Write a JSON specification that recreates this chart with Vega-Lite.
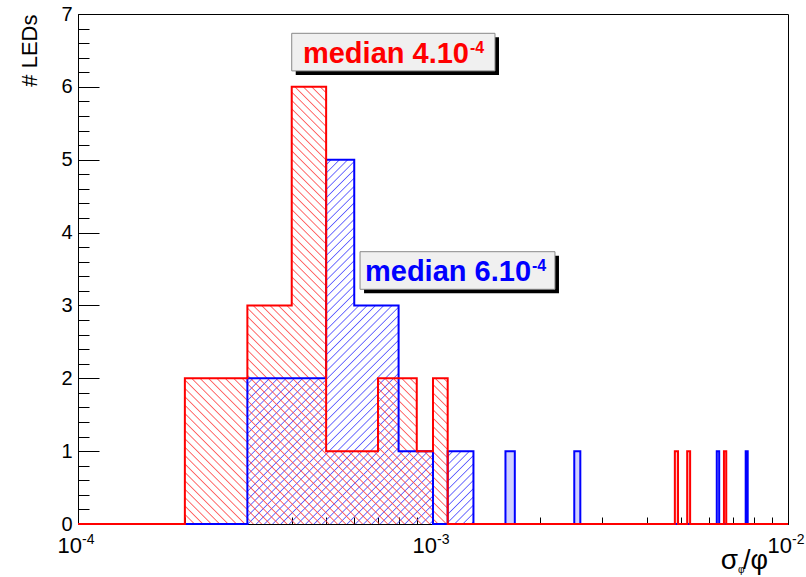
{
"$schema":"https://vega.github.io/schema/vega-lite/v6.json",
"width":710,"height":510,"autosize":"none",
"padding":{"left":78,"top":14,"right":18,"bottom":53},
"background":"white",
"config":{"view":{"stroke":"black","strokeWidth":1},"font":"Liberation Sans","axis":{"grid":false}},
"resolve":{"axis":{"x":"independent","y":"independent"}},
"datasets":{
"hist":[
{"s":"red","x":0.0001,"n":0},{"s":"red","x":0.0002,"n":2},{"s":"red","x":0.0003,"n":3},{"s":"red","x":0.0004,"n":6},{"s":"red","x":0.0005,"n":1},{"s":"red","x":0.0006,"n":1},{"s":"red","x":0.0007,"n":2},{"s":"red","x":0.0008,"n":2},{"s":"red","x":0.0009,"n":1},{"s":"red","x":0.001,"n":2},{"s":"red","x":0.0011,"n":0},{"s":"red","x":0.0048,"n":1},{"s":"red","x":0.0049,"n":0},{"s":"red","x":0.0052,"n":1},{"s":"red","x":0.0053,"n":0},{"s":"red","x":0.0066,"n":1},{"s":"red","x":0.0067,"n":0},{"s":"red","x":0.01,"n":0},
{"s":"blue","x":0.0001,"n":0},{"s":"blue","x":0.0003,"n":2},{"s":"blue","x":0.0004,"n":2},{"s":"blue","x":0.0005,"n":5},{"s":"blue","x":0.0006,"n":3},{"s":"blue","x":0.0007,"n":3},{"s":"blue","x":0.0008,"n":1},{"s":"blue","x":0.0009,"n":1},{"s":"blue","x":0.001,"n":0},{"s":"blue","x":0.0011,"n":1},{"s":"blue","x":0.0012,"n":1},{"s":"blue","x":0.0013,"n":0},{"s":"blue","x":0.0016,"n":1},{"s":"blue","x":0.0017,"n":0},{"s":"blue","x":0.0025,"n":1},{"s":"blue","x":0.0026,"n":0},{"s":"blue","x":0.0063,"n":1},{"s":"blue","x":0.0064,"n":0},{"s":"blue","x":0.0076,"n":1},{"s":"blue","x":0.0077,"n":0},{"s":"blue","x":0.01,"n":0}
],
"boxes":[
{"c":"red","t":"median 4.10","e":"-4","x1":0.0004,"x2":0.001495,"y1":6.735,"y2":6.219,"tx":0.0004302},
{"c":"blue","t":"median 6.10","e":"-4","x1":0.000623,"x2":0.002206,"y1":3.7375,"y2":3.2214,"tx":0.0006433}
],
"ticklabels":[{"v":0.0001,"e":"-4"},{"v":0.001,"e":"-3"},{"v":0.01,"e":"-2"}]
},
"layer":[
{"data":{"name":"hist"},
 "transform":[{"filter":"datum.s=='blue' && datum.x>=0.0003 && datum.x<=0.0013"}],
 "mark":{"type":"area","interpolate":"step-after","color":{"gradient":"linear","x1":0,"y1":0,"x2":0.7261,"y2":1.1699,"stops":[
{"offset":0,"color":"#44f0"},{"offset":0.002,"color":"#44fd"},{"offset":0.004,"color":"#44f0"},
{"offset":0.014,"color":"#44f0"},{"offset":0.016,"color":"#44fd"},{"offset":0.018,"color":"#44f0"},
{"offset":0.028,"color":"#44f0"},{"offset":0.03,"color":"#44fd"},{"offset":0.032,"color":"#44f0"},
{"offset":0.042,"color":"#44f0"},{"offset":0.044,"color":"#44fd"},{"offset":0.046,"color":"#44f0"},
{"offset":0.056,"color":"#44f0"},{"offset":0.058,"color":"#44fd"},{"offset":0.06,"color":"#44f0"},
{"offset":0.07,"color":"#44f0"},{"offset":0.072,"color":"#44fd"},{"offset":0.074,"color":"#44f0"},
{"offset":0.084,"color":"#44f0"},{"offset":0.086,"color":"#44fd"},{"offset":0.088,"color":"#44f0"},
{"offset":0.098,"color":"#44f0"},{"offset":0.1,"color":"#44fd"},{"offset":0.102,"color":"#44f0"},
{"offset":0.112,"color":"#44f0"},{"offset":0.114,"color":"#44fd"},{"offset":0.116,"color":"#44f0"},
{"offset":0.126,"color":"#44f0"},{"offset":0.128,"color":"#44fd"},{"offset":0.13,"color":"#44f0"},
{"offset":0.14,"color":"#44f0"},{"offset":0.142,"color":"#44fd"},{"offset":0.144,"color":"#44f0"},
{"offset":0.154,"color":"#44f0"},{"offset":0.156,"color":"#44fd"},{"offset":0.158,"color":"#44f0"},
{"offset":0.168,"color":"#44f0"},{"offset":0.17,"color":"#44fd"},{"offset":0.172,"color":"#44f0"},
{"offset":0.182,"color":"#44f0"},{"offset":0.184,"color":"#44fd"},{"offset":0.186,"color":"#44f0"},
{"offset":0.196,"color":"#44f0"},{"offset":0.198,"color":"#44fd"},{"offset":0.2,"color":"#44f0"},
{"offset":0.21,"color":"#44f0"},{"offset":0.212,"color":"#44fd"},{"offset":0.214,"color":"#44f0"},
{"offset":0.224,"color":"#44f0"},{"offset":0.226,"color":"#44fd"},{"offset":0.228,"color":"#44f0"},
{"offset":0.238,"color":"#44f0"},{"offset":0.24,"color":"#44fd"},{"offset":0.242,"color":"#44f0"},
{"offset":0.252,"color":"#44f0"},{"offset":0.254,"color":"#44fd"},{"offset":0.256,"color":"#44f0"},
{"offset":0.266,"color":"#44f0"},{"offset":0.268,"color":"#44fd"},{"offset":0.27,"color":"#44f0"},
{"offset":0.28,"color":"#44f0"},{"offset":0.282,"color":"#44fd"},{"offset":0.284,"color":"#44f0"},
{"offset":0.294,"color":"#44f0"},{"offset":0.296,"color":"#44fd"},{"offset":0.298,"color":"#44f0"},
{"offset":0.308,"color":"#44f0"},{"offset":0.31,"color":"#44fd"},{"offset":0.312,"color":"#44f0"},
{"offset":0.322,"color":"#44f0"},{"offset":0.324,"color":"#44fd"},{"offset":0.326,"color":"#44f0"},
{"offset":0.336,"color":"#44f0"},{"offset":0.338,"color":"#44fd"},{"offset":0.34,"color":"#44f0"},
{"offset":0.35,"color":"#44f0"},{"offset":0.352,"color":"#44fd"},{"offset":0.354,"color":"#44f0"},
{"offset":0.364,"color":"#44f0"},{"offset":0.366,"color":"#44fd"},{"offset":0.368,"color":"#44f0"},
{"offset":0.378,"color":"#44f0"},{"offset":0.38,"color":"#44fd"},{"offset":0.382,"color":"#44f0"},
{"offset":0.392,"color":"#44f0"},{"offset":0.394,"color":"#44fd"},{"offset":0.396,"color":"#44f0"},
{"offset":0.406,"color":"#44f0"},{"offset":0.408,"color":"#44fd"},{"offset":0.41,"color":"#44f0"},
{"offset":0.42,"color":"#44f0"},{"offset":0.422,"color":"#44fd"},{"offset":0.424,"color":"#44f0"},
{"offset":0.434,"color":"#44f0"},{"offset":0.436,"color":"#44fd"},{"offset":0.438,"color":"#44f0"},
{"offset":0.448,"color":"#44f0"},{"offset":0.45,"color":"#44fd"},{"offset":0.452,"color":"#44f0"},
{"offset":0.462,"color":"#44f0"},{"offset":0.464,"color":"#44fd"},{"offset":0.466,"color":"#44f0"},
{"offset":0.476,"color":"#44f0"},{"offset":0.478,"color":"#44fd"},{"offset":0.48,"color":"#44f0"},
{"offset":0.49,"color":"#44f0"},{"offset":0.492,"color":"#44fd"},{"offset":0.494,"color":"#44f0"},
{"offset":0.504,"color":"#44f0"},{"offset":0.506,"color":"#44fd"},{"offset":0.508,"color":"#44f0"},
{"offset":0.518,"color":"#44f0"},{"offset":0.52,"color":"#44fd"},{"offset":0.522,"color":"#44f0"},
{"offset":0.532,"color":"#44f0"},{"offset":0.534,"color":"#44fd"},{"offset":0.536,"color":"#44f0"},
{"offset":0.546,"color":"#44f0"},{"offset":0.548,"color":"#44fd"},{"offset":0.55,"color":"#44f0"},
{"offset":0.56,"color":"#44f0"},{"offset":0.562,"color":"#44fd"},{"offset":0.564,"color":"#44f0"},
{"offset":0.574,"color":"#44f0"},{"offset":0.576,"color":"#44fd"},{"offset":0.578,"color":"#44f0"},
{"offset":0.588,"color":"#44f0"},{"offset":0.59,"color":"#44fd"},{"offset":0.592,"color":"#44f0"},
{"offset":0.602,"color":"#44f0"},{"offset":0.604,"color":"#44fd"},{"offset":0.606,"color":"#44f0"},
{"offset":0.616,"color":"#44f0"},{"offset":0.618,"color":"#44fd"},{"offset":0.62,"color":"#44f0"},
{"offset":0.63,"color":"#44f0"},{"offset":0.632,"color":"#44fd"},{"offset":0.634,"color":"#44f0"},
{"offset":0.644,"color":"#44f0"},{"offset":0.646,"color":"#44fd"},{"offset":0.648,"color":"#44f0"},
{"offset":0.658,"color":"#44f0"},{"offset":0.66,"color":"#44fd"},{"offset":0.662,"color":"#44f0"},
{"offset":0.672,"color":"#44f0"},{"offset":0.674,"color":"#44fd"},{"offset":0.676,"color":"#44f0"},
{"offset":0.686,"color":"#44f0"},{"offset":0.688,"color":"#44fd"},{"offset":0.69,"color":"#44f0"},
{"offset":0.7,"color":"#44f0"},{"offset":0.702,"color":"#44fd"},{"offset":0.704,"color":"#44f0"},
{"offset":0.714,"color":"#44f0"},{"offset":0.716,"color":"#44fd"},{"offset":0.718,"color":"#44f0"},
{"offset":0.728,"color":"#44f0"},{"offset":0.73,"color":"#44fd"},{"offset":0.732,"color":"#44f0"},
{"offset":0.742,"color":"#44f0"},{"offset":0.744,"color":"#44fd"},{"offset":0.746,"color":"#44f0"},
{"offset":0.756,"color":"#44f0"},{"offset":0.758,"color":"#44fd"},{"offset":0.76,"color":"#44f0"},
{"offset":0.77,"color":"#44f0"},{"offset":0.772,"color":"#44fd"},{"offset":0.774,"color":"#44f0"},
{"offset":0.784,"color":"#44f0"},{"offset":0.786,"color":"#44fd"},{"offset":0.788,"color":"#44f0"},
{"offset":0.798,"color":"#44f0"},{"offset":0.8,"color":"#44fd"},{"offset":0.802,"color":"#44f0"},
{"offset":0.812,"color":"#44f0"},{"offset":0.814,"color":"#44fd"},{"offset":0.816,"color":"#44f0"},
{"offset":0.826,"color":"#44f0"},{"offset":0.828,"color":"#44fd"},{"offset":0.83,"color":"#44f0"},
{"offset":0.84,"color":"#44f0"},{"offset":0.842,"color":"#44fd"},{"offset":0.844,"color":"#44f0"},
{"offset":0.854,"color":"#44f0"},{"offset":0.856,"color":"#44fd"},{"offset":0.858,"color":"#44f0"},
{"offset":0.868,"color":"#44f0"},{"offset":0.87,"color":"#44fd"},{"offset":0.872,"color":"#44f0"},
{"offset":0.882,"color":"#44f0"},{"offset":0.884,"color":"#44fd"},{"offset":0.886,"color":"#44f0"},
{"offset":0.896,"color":"#44f0"},{"offset":0.898,"color":"#44fd"},{"offset":0.9,"color":"#44f0"},
{"offset":0.91,"color":"#44f0"},{"offset":0.912,"color":"#44fd"},{"offset":0.914,"color":"#44f0"},
{"offset":0.924,"color":"#44f0"},{"offset":0.926,"color":"#44fd"},{"offset":0.928,"color":"#44f0"},
{"offset":0.938,"color":"#44f0"},{"offset":0.94,"color":"#44fd"},{"offset":0.942,"color":"#44f0"},
{"offset":0.952,"color":"#44f0"},{"offset":0.954,"color":"#44fd"},{"offset":0.956,"color":"#44f0"},
{"offset":0.966,"color":"#44f0"},{"offset":0.968,"color":"#44fd"},{"offset":0.97,"color":"#44f0"},
{"offset":0.98,"color":"#44f0"},{"offset":0.982,"color":"#44fd"},{"offset":0.984,"color":"#44f0"},
{"offset":0.994,"color":"#44f0"},{"offset":0.996,"color":"#44fd"},{"offset":0.998,"color":"#44f0"}
]}},
 "encoding":{
  "x":{"field":"x","type":"quantitative","scale":{"type":"log","domain":[0.0001,0.01],"nice":false},
       "axis":{"orient":"bottom","values":[0.0001,0.001,0.01],"tickSize":-14,"tickColor":"black","tickWidth":1,"labels":false,"domain":true,"domainColor":"black","title":null,"grid":false}},
  "y":{"field":"n","type":"quantitative","scale":{"domain":[0,7],"nice":false},
       "axis":{"orient":"left","values":[0,1,2,3,4,5,6,7],"ticks":false,"labelFontSize":20,"labelFont":"Liberation Sans","labelColor":"black","labelPadding":6,"labelFlush":false,"labelOverlap":false,"domain":true,"domainColor":"black","grid":false,
               "title":"# LEDs","titleFont":"Liberation Sans","titleFontSize":22,"titleFontWeight":"normal","titleColor":"black","titleAngle":-90,"titleAlign":"right","titleBaseline":"middle","titleX":-49,"titleY":0}}
 }},
{"data":{"name":"hist"},
 "transform":[{"filter":"datum.s=='red' && datum.x>=0.0002 && datum.x<=0.0011"}],
 "mark":{"type":"area","interpolate":"step-after","color":{"gradient":"linear","x1":0,"y1":1,"x2":0.7071,"y2":-0.1761,"stops":[
{"offset":0,"color":"#f440"},{"offset":0.0018,"color":"#f44d"},{"offset":0.0036,"color":"#f440"},
{"offset":0.012,"color":"#f440"},{"offset":0.0138,"color":"#f44d"},{"offset":0.0156,"color":"#f440"},
{"offset":0.024,"color":"#f440"},{"offset":0.0258,"color":"#f44d"},{"offset":0.0276,"color":"#f440"},
{"offset":0.036,"color":"#f440"},{"offset":0.0378,"color":"#f44d"},{"offset":0.0396,"color":"#f440"},
{"offset":0.048,"color":"#f440"},{"offset":0.0498,"color":"#f44d"},{"offset":0.0516,"color":"#f440"},
{"offset":0.06,"color":"#f440"},{"offset":0.0618,"color":"#f44d"},{"offset":0.0636,"color":"#f440"},
{"offset":0.072,"color":"#f440"},{"offset":0.0738,"color":"#f44d"},{"offset":0.0756,"color":"#f440"},
{"offset":0.084,"color":"#f440"},{"offset":0.0858,"color":"#f44d"},{"offset":0.0876,"color":"#f440"},
{"offset":0.096,"color":"#f440"},{"offset":0.0978,"color":"#f44d"},{"offset":0.0996,"color":"#f440"},
{"offset":0.108,"color":"#f440"},{"offset":0.1098,"color":"#f44d"},{"offset":0.1116,"color":"#f440"},
{"offset":0.12,"color":"#f440"},{"offset":0.1218,"color":"#f44d"},{"offset":0.1236,"color":"#f440"},
{"offset":0.132,"color":"#f440"},{"offset":0.1338,"color":"#f44d"},{"offset":0.1356,"color":"#f440"},
{"offset":0.144,"color":"#f440"},{"offset":0.1458,"color":"#f44d"},{"offset":0.1476,"color":"#f440"},
{"offset":0.156,"color":"#f440"},{"offset":0.1578,"color":"#f44d"},{"offset":0.1596,"color":"#f440"},
{"offset":0.168,"color":"#f440"},{"offset":0.1698,"color":"#f44d"},{"offset":0.1716,"color":"#f440"},
{"offset":0.18,"color":"#f440"},{"offset":0.1818,"color":"#f44d"},{"offset":0.1836,"color":"#f440"},
{"offset":0.192,"color":"#f440"},{"offset":0.1938,"color":"#f44d"},{"offset":0.1956,"color":"#f440"},
{"offset":0.204,"color":"#f440"},{"offset":0.2058,"color":"#f44d"},{"offset":0.2076,"color":"#f440"},
{"offset":0.216,"color":"#f440"},{"offset":0.2178,"color":"#f44d"},{"offset":0.2196,"color":"#f440"},
{"offset":0.228,"color":"#f440"},{"offset":0.2298,"color":"#f44d"},{"offset":0.2316,"color":"#f440"},
{"offset":0.24,"color":"#f440"},{"offset":0.2418,"color":"#f44d"},{"offset":0.2436,"color":"#f440"},
{"offset":0.252,"color":"#f440"},{"offset":0.2538,"color":"#f44d"},{"offset":0.2556,"color":"#f440"},
{"offset":0.264,"color":"#f440"},{"offset":0.2658,"color":"#f44d"},{"offset":0.2676,"color":"#f440"},
{"offset":0.276,"color":"#f440"},{"offset":0.2778,"color":"#f44d"},{"offset":0.2796,"color":"#f440"},
{"offset":0.288,"color":"#f440"},{"offset":0.2898,"color":"#f44d"},{"offset":0.2916,"color":"#f440"},
{"offset":0.3,"color":"#f440"},{"offset":0.3018,"color":"#f44d"},{"offset":0.3036,"color":"#f440"},
{"offset":0.312,"color":"#f440"},{"offset":0.3138,"color":"#f44d"},{"offset":0.3156,"color":"#f440"},
{"offset":0.324,"color":"#f440"},{"offset":0.3258,"color":"#f44d"},{"offset":0.3276,"color":"#f440"},
{"offset":0.336,"color":"#f440"},{"offset":0.3378,"color":"#f44d"},{"offset":0.3396,"color":"#f440"},
{"offset":0.348,"color":"#f440"},{"offset":0.3498,"color":"#f44d"},{"offset":0.3516,"color":"#f440"},
{"offset":0.36,"color":"#f440"},{"offset":0.3618,"color":"#f44d"},{"offset":0.3636,"color":"#f440"},
{"offset":0.372,"color":"#f440"},{"offset":0.3738,"color":"#f44d"},{"offset":0.3756,"color":"#f440"},
{"offset":0.384,"color":"#f440"},{"offset":0.3858,"color":"#f44d"},{"offset":0.3876,"color":"#f440"},
{"offset":0.396,"color":"#f440"},{"offset":0.3978,"color":"#f44d"},{"offset":0.3996,"color":"#f440"},
{"offset":0.408,"color":"#f440"},{"offset":0.4098,"color":"#f44d"},{"offset":0.4116,"color":"#f440"},
{"offset":0.42,"color":"#f440"},{"offset":0.4218,"color":"#f44d"},{"offset":0.4236,"color":"#f440"},
{"offset":0.432,"color":"#f440"},{"offset":0.4338,"color":"#f44d"},{"offset":0.4356,"color":"#f440"},
{"offset":0.444,"color":"#f440"},{"offset":0.4458,"color":"#f44d"},{"offset":0.4476,"color":"#f440"},
{"offset":0.456,"color":"#f440"},{"offset":0.4578,"color":"#f44d"},{"offset":0.4596,"color":"#f440"},
{"offset":0.468,"color":"#f440"},{"offset":0.4698,"color":"#f44d"},{"offset":0.4716,"color":"#f440"},
{"offset":0.48,"color":"#f440"},{"offset":0.4818,"color":"#f44d"},{"offset":0.4836,"color":"#f440"},
{"offset":0.492,"color":"#f440"},{"offset":0.4938,"color":"#f44d"},{"offset":0.4956,"color":"#f440"},
{"offset":0.504,"color":"#f440"},{"offset":0.5058,"color":"#f44d"},{"offset":0.5076,"color":"#f440"},
{"offset":0.516,"color":"#f440"},{"offset":0.5178,"color":"#f44d"},{"offset":0.5196,"color":"#f440"},
{"offset":0.528,"color":"#f440"},{"offset":0.5298,"color":"#f44d"},{"offset":0.5316,"color":"#f440"},
{"offset":0.54,"color":"#f440"},{"offset":0.5418,"color":"#f44d"},{"offset":0.5436,"color":"#f440"},
{"offset":0.552,"color":"#f440"},{"offset":0.5538,"color":"#f44d"},{"offset":0.5556,"color":"#f440"},
{"offset":0.564,"color":"#f440"},{"offset":0.5658,"color":"#f44d"},{"offset":0.5676,"color":"#f440"},
{"offset":0.576,"color":"#f440"},{"offset":0.5778,"color":"#f44d"},{"offset":0.5796,"color":"#f440"},
{"offset":0.588,"color":"#f440"},{"offset":0.5898,"color":"#f44d"},{"offset":0.5916,"color":"#f440"},
{"offset":0.6,"color":"#f440"},{"offset":0.6018,"color":"#f44d"},{"offset":0.6036,"color":"#f440"},
{"offset":0.612,"color":"#f440"},{"offset":0.6138,"color":"#f44d"},{"offset":0.6156,"color":"#f440"},
{"offset":0.624,"color":"#f440"},{"offset":0.6258,"color":"#f44d"},{"offset":0.6276,"color":"#f440"},
{"offset":0.636,"color":"#f440"},{"offset":0.6378,"color":"#f44d"},{"offset":0.6396,"color":"#f440"},
{"offset":0.648,"color":"#f440"},{"offset":0.6498,"color":"#f44d"},{"offset":0.6516,"color":"#f440"},
{"offset":0.66,"color":"#f440"},{"offset":0.6618,"color":"#f44d"},{"offset":0.6636,"color":"#f440"},
{"offset":0.672,"color":"#f440"},{"offset":0.6738,"color":"#f44d"},{"offset":0.6756,"color":"#f440"},
{"offset":0.684,"color":"#f440"},{"offset":0.6858,"color":"#f44d"},{"offset":0.6876,"color":"#f440"},
{"offset":0.696,"color":"#f440"},{"offset":0.6978,"color":"#f44d"},{"offset":0.6996,"color":"#f440"},
{"offset":0.708,"color":"#f440"},{"offset":0.7098,"color":"#f44d"},{"offset":0.7116,"color":"#f440"},
{"offset":0.72,"color":"#f440"},{"offset":0.7218,"color":"#f44d"},{"offset":0.7236,"color":"#f440"},
{"offset":0.732,"color":"#f440"},{"offset":0.7338,"color":"#f44d"},{"offset":0.7356,"color":"#f440"},
{"offset":0.744,"color":"#f440"},{"offset":0.7458,"color":"#f44d"},{"offset":0.7476,"color":"#f440"},
{"offset":0.756,"color":"#f440"},{"offset":0.7578,"color":"#f44d"},{"offset":0.7596,"color":"#f440"},
{"offset":0.768,"color":"#f440"},{"offset":0.7698,"color":"#f44d"},{"offset":0.7716,"color":"#f440"},
{"offset":0.78,"color":"#f440"},{"offset":0.7818,"color":"#f44d"},{"offset":0.7836,"color":"#f440"},
{"offset":0.792,"color":"#f440"},{"offset":0.7938,"color":"#f44d"},{"offset":0.7956,"color":"#f440"},
{"offset":0.804,"color":"#f440"},{"offset":0.8058,"color":"#f44d"},{"offset":0.8076,"color":"#f440"},
{"offset":0.816,"color":"#f440"},{"offset":0.8178,"color":"#f44d"},{"offset":0.8196,"color":"#f440"},
{"offset":0.828,"color":"#f440"},{"offset":0.8298,"color":"#f44d"},{"offset":0.8316,"color":"#f440"},
{"offset":0.84,"color":"#f440"},{"offset":0.8418,"color":"#f44d"},{"offset":0.8436,"color":"#f440"},
{"offset":0.852,"color":"#f440"},{"offset":0.8538,"color":"#f44d"},{"offset":0.8556,"color":"#f440"},
{"offset":0.864,"color":"#f440"},{"offset":0.8658,"color":"#f44d"},{"offset":0.8676,"color":"#f440"},
{"offset":0.876,"color":"#f440"},{"offset":0.8778,"color":"#f44d"},{"offset":0.8796,"color":"#f440"},
{"offset":0.888,"color":"#f440"},{"offset":0.8898,"color":"#f44d"},{"offset":0.8916,"color":"#f440"},
{"offset":0.9,"color":"#f440"},{"offset":0.9018,"color":"#f44d"},{"offset":0.9036,"color":"#f440"},
{"offset":0.912,"color":"#f440"},{"offset":0.9138,"color":"#f44d"},{"offset":0.9156,"color":"#f440"},
{"offset":0.924,"color":"#f440"},{"offset":0.9258,"color":"#f44d"},{"offset":0.9276,"color":"#f440"},
{"offset":0.936,"color":"#f440"},{"offset":0.9378,"color":"#f44d"},{"offset":0.9396,"color":"#f440"},
{"offset":0.948,"color":"#f440"},{"offset":0.9498,"color":"#f44d"},{"offset":0.9516,"color":"#f440"},
{"offset":0.96,"color":"#f440"},{"offset":0.9618,"color":"#f44d"},{"offset":0.9636,"color":"#f440"},
{"offset":0.972,"color":"#f440"},{"offset":0.9738,"color":"#f44d"},{"offset":0.9756,"color":"#f440"},
{"offset":0.984,"color":"#f440"},{"offset":0.9858,"color":"#f44d"},{"offset":0.9876,"color":"#f440"},
{"offset":0.996,"color":"#f440"},{"offset":0.9978,"color":"#f44d"},{"offset":0.9996,"color":"#f440"}
]}},
 "encoding":{
  "x":{"field":"x","type":"quantitative","axis":{"orient":"bottom","values":[0.0002,0.0003,0.0004,0.0005,0.0006,0.0007,0.0008,0.0009,0.002,0.003,0.004,0.005,0.006,0.007,0.008,0.009],"tickSize":-7,"tickColor":"black","tickWidth":1,"labels":false,"domain":false,"title":null,"grid":false}},
  "y":{"field":"n","type":"quantitative","axis":{"orient":"left","values":[0,1,2,3,4,5,6,7],"tickSize":-21,"tickColor":"black","tickWidth":1,"labels":false,"domain":false,"title":null,"grid":false}}
 }},
{"data":{"name":"hist"},
 "transform":[{"filter":"datum.s=='blue' && datum.x>=0.0013"}],
 "mark":{"type":"area","interpolate":"step-after","color":"rgba(68,68,255,0.25)"},
 "encoding":{
  "x":{"field":"x","type":"quantitative","axis":null},
  "y":{"field":"n","type":"quantitative","axis":{"orient":"left","values":[0.2,0.4,0.6,0.8,1.2,1.4,1.6,1.8,2.2,2.4,2.6,2.8,3.2,3.4,3.6,3.8,4.2,4.4,4.6,4.8,5.2,5.4,5.6,5.8,6.2,6.4,6.6,6.8],"tickSize":-11,"tickColor":"black","tickWidth":1,"labels":false,"domain":false,"title":null,"grid":false}}
 }},
{"data":{"name":"hist"},
 "transform":[{"filter":"datum.s=='red' && datum.x>=0.0011"}],
 "mark":{"type":"area","interpolate":"step-after","color":"rgba(255,68,68,0.3)"},
 "encoding":{"x":{"field":"x","type":"quantitative","axis":null},"y":{"field":"n","type":"quantitative","axis":null}}},
{"data":{"name":"hist"},
 "transform":[{"filter":"datum.s=='blue'"}],
 "mark":{"type":"line","interpolate":"step-after","color":"#0000ff","strokeWidth":2},
 "encoding":{"x":{"field":"x","type":"quantitative","axis":null},"y":{"field":"n","type":"quantitative","axis":null}}},
{"data":{"name":"hist"},
 "transform":[{"filter":"datum.s=='red'"}],
 "mark":{"type":"line","interpolate":"step-after","color":"#ff0000","strokeWidth":2},
 "encoding":{"x":{"field":"x","type":"quantitative","axis":null},"y":{"field":"n","type":"quantitative","axis":null}}},
{"data":{"name":"boxes"},
 "mark":{"type":"rect","color":"black","xOffset":4,"x2Offset":4,"yOffset":4,"y2Offset":4},
 "encoding":{"x":{"field":"x1","type":"quantitative","axis":null},"x2":{"field":"x2"},"y":{"field":"y1","type":"quantitative","axis":null},"y2":{"field":"y2"}}},
{"data":{"name":"boxes"},
 "mark":{"type":"rect","fill":"#f0f0f0","stroke":"#888888","strokeWidth":1},
 "encoding":{"x":{"field":"x1","type":"quantitative","axis":null},"x2":{"field":"x2"},"y":{"field":"y1","type":"quantitative","axis":null},"y2":{"field":"y2"}}},
{"data":{"name":"boxes"},
 "mark":{"type":"text","align":"left","baseline":"alphabetic","dy":-8,"fontSize":29,"fontWeight":"bold","font":"Liberation Sans"},
 "encoding":{"x":{"field":"tx","type":"quantitative","axis":null},"y":{"field":"y2","type":"quantitative","axis":null},"text":{"field":"t"},"color":{"field":"c","type":"nominal","scale":null}}},
{"data":{"name":"boxes"},
 "mark":{"type":"text","align":"left","baseline":"alphabetic","dx":167,"dy":-18,"fontSize":16,"fontWeight":"bold","font":"Liberation Sans"},
 "encoding":{"x":{"field":"tx","type":"quantitative","axis":null},"y":{"field":"y2","type":"quantitative","axis":null},"text":{"field":"e"},"color":{"field":"c","type":"nominal","scale":null}}},
{"data":{"name":"ticklabels"},
 "mark":{"type":"text","align":"right","baseline":"alphabetic","dx":4,"dy":29,"fontSize":22,"font":"Liberation Sans","color":"black","text":"10"},
 "encoding":{"x":{"field":"v","type":"quantitative","axis":null},"y":{"datum":0,"type":"quantitative","axis":null}}},
{"data":{"name":"ticklabels"},
 "mark":{"type":"text","align":"left","baseline":"alphabetic","dx":4,"dy":20,"fontSize":14,"font":"Liberation Sans","color":"black"},
 "encoding":{"x":{"field":"v","type":"quantitative","axis":null},"y":{"datum":0,"type":"quantitative","axis":null},"text":{"field":"e"}}},
{"data":{"values":[{}]},
 "mark":{"type":"text","align":"right","baseline":"alphabetic","dx":-50,"dy":45,"fontSize":28,"font":"Liberation Sans","color":"black","text":"σ"},
 "encoding":{"x":{"datum":0.01,"type":"quantitative","axis":null},"y":{"datum":0,"type":"quantitative","axis":null}}},
{"data":{"values":[{}]},
 "mark":{"type":"text","align":"left","baseline":"alphabetic","dx":-50,"dy":49,"fontSize":10,"font":"Liberation Sans","color":"black","text":"φ"},
 "encoding":{"x":{"datum":0.01,"type":"quantitative","axis":null},"y":{"datum":0,"type":"quantitative","axis":null}}},
{"data":{"values":[{}]},
 "mark":{"type":"text","align":"left","baseline":"alphabetic","dx":-45,"dy":45,"fontSize":27,"font":"Liberation Sans","color":"black","text":"/φ"},
 "encoding":{"x":{"datum":0.01,"type":"quantitative","axis":null},"y":{"datum":0,"type":"quantitative","axis":null}}}
]
}
